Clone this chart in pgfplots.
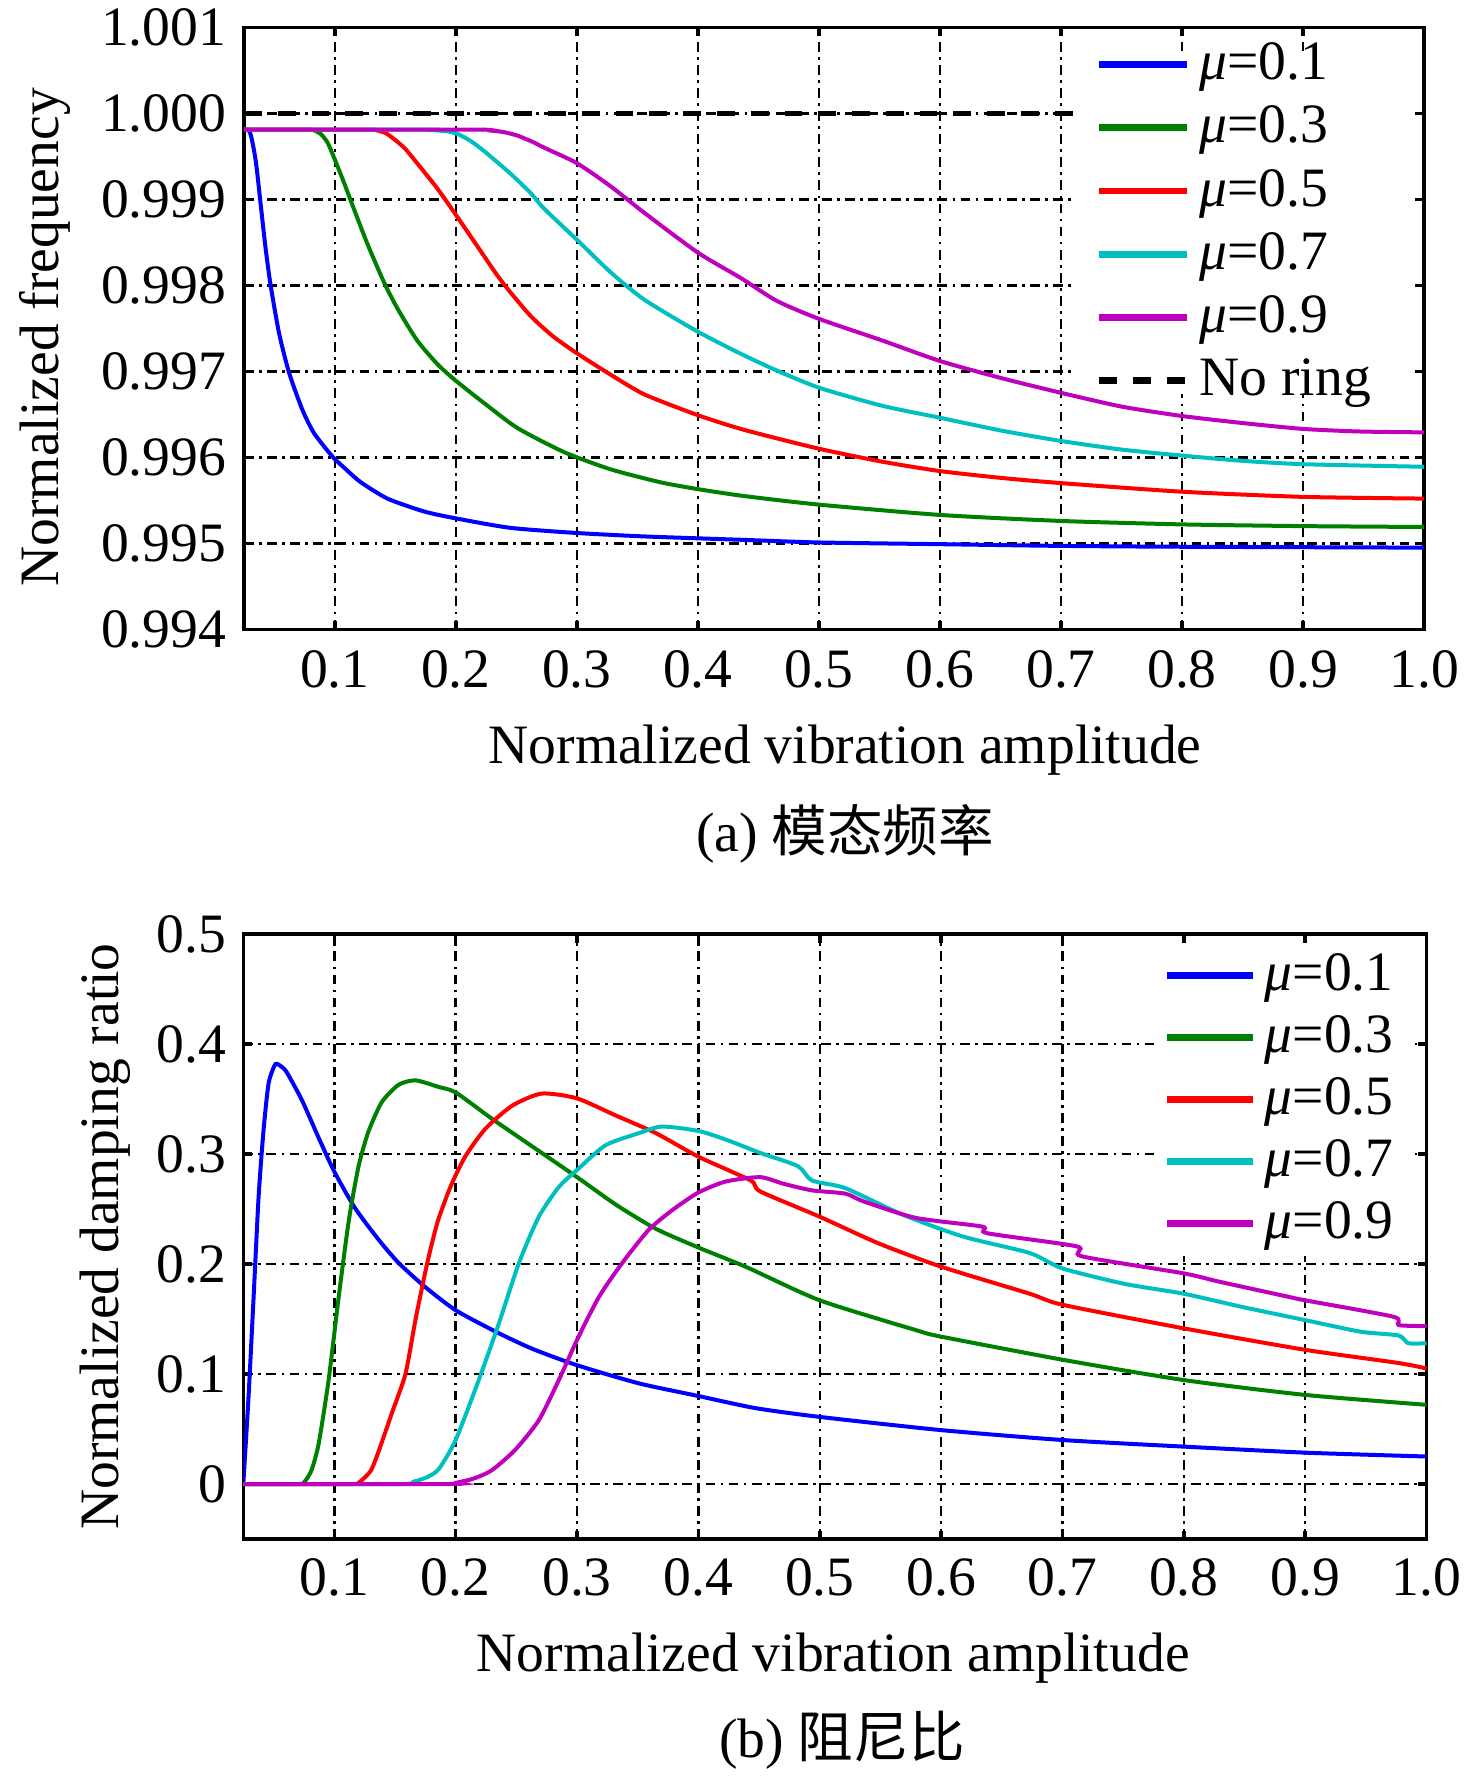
\documentclass[border=0pt]{standalone}
\usepackage{fontspec}
\setmainfont{Liberation Serif}
\newfontfamily\cjk{Noto Sans CJK SC}
\usepackage{pgfplots}
\pgfplotsset{compat=1.18}
\definecolor{cB}{rgb}{0,0,1}
\definecolor{cG}{rgb}{0,0.5,0}
\definecolor{cR}{rgb}{1,0,0}
\definecolor{cC}{rgb}{0,0.75,0.75}
\definecolor{cM}{rgb}{0.75,0,0.75}
\newcommand\fs{\fontsize{12.5}{15}\selectfont}
\newcommand\MU{{\itshape μ}}
\pgfplotsset{
  common/.style={
    scale only axis,
    xmin=0.025, xmax=1.0,
    xtick={0.1,0.2,0.3,0.4,0.5,0.6,0.7,0.8,0.9,1.0},
    xticklabels={0.1,0.2,0.3,0.4,0.5,0.6,0.7,0.8,0.9,1.0},
    tick align=inside,
    major tick length=1.9pt,
    tick style={black, line width=0.8pt},
    axis line style={line width=0.8pt},
    grid=major,
    major grid style={black, line width=0.55pt, dash pattern=on 2.2pt off 1.2pt on 0.6pt off 1.2pt},
    tick label style={font=\fs},
    label style={font=\fs},
    legend cell align=left,
    legend style={font=\fs, draw=none, fill=white},
    every axis plot/.append style={line width=0.9pt, smooth, tension=0.4},
  }
}
\begin{document}
\begin{tikzpicture}
\path[use as bounding box] (0,0) rectangle (332.1pt,-400.7pt);

% ---------------- (a) ----------------
\begin{axis}[common,
  at={(54.9pt,-6.14pt)}, anchor=north west,
  width=265.5pt, height=135.45pt,
  ymin=0.994, ymax=1.001,
  ytick={0.994,0.995,0.996,0.997,0.998,0.999,1.000,1.001},
  yticklabels={0.994,0.995,0.996,0.997,0.998,0.999,1.000,1.001},
  xticklabel style={yshift=-1.2pt},
  yticklabel style={xshift=-0.5pt},
  xlabel={Normalized vibration amplitude},
  xlabel style={at={(axis description cs:0.5093,-0.2221)}, anchor=base},
  ylabel={Normalized frequency},
  ylabel style={at={(axis description cs:-0.1574,0.485)}, anchor=base},
  title={(a) {\cjk 模态频率}},
  every axis title/.style={font=\fs, at={(axis description cs:0.5093,-0.3694)}, anchor=base},
  legend image code/.code={\draw[#1,line width=1.5pt] (0pt,0pt) -- (19.8pt,0pt);},
  legend style={at={(axis description cs:0.7017,0.9626)}, anchor=north west,
    inner xsep=5.2pt, inner ysep=-3.8pt, row sep=0.42pt},
]
\addplot[cB] coordinates {(0.025,0.99981)(0.0275,0.99981)(0.0295,0.99979)(0.0311,0.99972)(0.0335,0.99955)(0.0355,0.99936)(0.0383,0.99900)(0.043,0.99841)(0.0471,0.99799)(0.054,0.99744)(0.0623,0.99698)(0.0733,0.99655)(0.0829,0.99628)(0.098,0.99601)(0.11,0.99585)(0.1215,0.99571)(0.1435,0.99552)(0.1738,0.99537)(0.2,0.99529)(0.245,0.99518)(0.3,0.99512)(0.356,0.99508)(0.438,0.99504)(0.5,0.99501)(0.6,0.99499)(0.7,0.99497)(0.8,0.99496)(1.0,0.99495)};
\addlegendentry{\makebox[40.5pt][l]{\MU=0.1}}
\addplot[cG] coordinates {(0.025,0.99981)(0.078,0.99981)(0.083,0.99980)(0.0884,0.99976)(0.094,0.99966)(0.0995,0.99948)(0.1077,0.99919)(0.116,0.99888)(0.127,0.99848)(0.1408,0.99803)(0.1518,0.99773)(0.168,0.99736)(0.185,0.99708)(0.2,0.99689)(0.2234,0.99663)(0.251,0.99634)(0.2895,0.99606)(0.328,0.99586)(0.369,0.99571)(0.4,0.99563)(0.438,0.99555)(0.5,0.99545)(0.6,0.99533)(0.7,0.99526)(0.8,0.99522)(0.9,0.99520)(1.0,0.99519)};
\addlegendentry{\MU=0.3}
\addplot[cR] coordinates {(0.025,0.99981)(0.128,0.99981)(0.135,0.99980)(0.142,0.99977)(0.149,0.99970)(0.158,0.99959)(0.168,0.99942)(0.185,0.99912)(0.2,0.99882)(0.218,0.99845)(0.234,0.99812)(0.245,0.99792)(0.262,0.99764)(0.28,0.99741)(0.3,0.99721)(0.328,0.99696)(0.356,0.99673)(0.4,0.99649)(0.438,0.99632)(0.5,0.99610)(0.552,0.99595)(0.6,0.99584)(0.651,0.99576)(0.7,0.99570)(0.8,0.99560)(0.9,0.99554)(1.0,0.99552)};
\addlegendentry{\MU=0.5}
\addplot[cC] coordinates {(0.025,0.99981)(0.178,0.99981)(0.185,0.99980)(0.193,0.99979)(0.2014,0.99976)(0.212,0.99968)(0.2234,0.99956)(0.245,0.99930)(0.262,0.99907)(0.273,0.99889)(0.3,0.99853)(0.328,0.99815)(0.356,0.99783)(0.4,0.99746)(0.436,0.99720)(0.465,0.99701)(0.5,0.99681)(0.552,0.99660)(0.6,0.99646)(0.651,0.99631)(0.7,0.99619)(0.75,0.99609)(0.8,0.99602)(0.849,0.99596)(0.9,0.99592)(1.0,0.99589)};
\addlegendentry{\MU=0.7}
\addplot[cM] coordinates {(0.025,0.99981)(0.215,0.99981)(0.228,0.99980)(0.24,0.99978)(0.251,0.99974)(0.263,0.99967)(0.273,0.99960)(0.3,0.99942)(0.328,0.99915)(0.356,0.99884)(0.4,0.99838)(0.436,0.99808)(0.465,0.99782)(0.5,0.99761)(0.552,0.99736)(0.6,0.99712)(0.651,0.99692)(0.7,0.99675)(0.75,0.99659)(0.8,0.99648)(0.849,0.99640)(0.9,0.99633)(0.947,0.99630)(1.0,0.99629)};
\addlegendentry{\MU=0.9}
\addplot[black, line width=1pt, dash pattern=on 4pt off 3.6pt, sharp plot] coordinates {(0.025,1.000)(1.0,1.000)};
\addlegendentry{No ring}
\end{axis}

% ---------------- (b) ----------------
\begin{axis}[common,
  at={(54.74pt,-210.15pt)}, anchor=north west,
  width=266.2pt, height=136.1pt,
  ymin=-0.05, ymax=0.5,
  ytick={0,0.1,0.2,0.3,0.4,0.5},
  yticklabels={0,0.1,0.2,0.3,0.4,0.5},
  xticklabel style={yshift=-0.8pt},
  yticklabel style={xshift=-0.3pt},
  xlabel={Normalized vibration amplitude},
  xlabel style={at={(axis description cs:0.4985,-0.2193)}, anchor=base},
  ylabel={Normalized damping ratio},
  ylabel style={at={(axis description cs:-0.1059,0.5)}, anchor=base},
  title={(b) {\cjk 阻尼比}},
  every axis title/.style={font=\fs, at={(axis description cs:0.506,-0.362)}, anchor=base},
  legend image code/.code={\draw[#1,line width=1.5pt] (0pt,0pt) -- (19.2pt,0pt);},
  legend style={at={(axis description cs:0.7688,0.9873)}, anchor=north west,
    inner xsep=2.3pt, inner ysep=0.5pt, row sep=0.12pt},
]
\addplot[cB] coordinates {(0.025,0)(0.0293,0.079)(0.0335,0.170)(0.0376,0.261)(0.0417,0.322)(0.0458,0.364)(0.0505,0.380)(0.0527,0.382)(0.057,0.379)(0.061,0.374)(0.0733,0.349)(0.087,0.315)(0.1,0.284)(0.117,0.251)(0.1366,0.222)(0.153,0.201)(0.175,0.179)(0.2,0.158)(0.233,0.1385)(0.263,0.123)(0.3,0.108)(0.351,0.0915)(0.4,0.080)(0.447,0.069)(0.5,0.061)(0.6,0.049)(0.7,0.040)(0.8,0.034)(0.9,0.0285)(1.0,0.025)};
\addlegendentry{\makebox[29.4pt][l]{\MU=0.1}}
\addplot[cG] coordinates {(0.025,0)(0.07,0)(0.0747,0.001)(0.081,0.012)(0.087,0.036)(0.0953,0.0945)(0.1036,0.170)(0.112,0.240)(0.120,0.289)(0.128,0.320)(0.139,0.347)(0.153,0.363)(0.167,0.367)(0.186,0.361)(0.2,0.356)(0.23,0.332)(0.263,0.307)(0.3,0.279)(0.332,0.254)(0.365,0.232)(0.4,0.215)(0.44,0.197)(0.5,0.167)(0.579,0.140)(0.6,0.134)(0.7,0.113)(0.8,0.0945)(0.9,0.081)(1.0,0.072)};
\addlegendentry{\MU=0.3}
\addplot[cR] coordinates {(0.025,0)(0.115,0)(0.12,0.001)(0.13,0.012)(0.1366,0.030)(0.1476,0.065)(0.1586,0.100)(0.167,0.150)(0.1764,0.200)(0.185,0.238)(0.196,0.271)(0.208,0.298)(0.2245,0.323)(0.2466,0.344)(0.271,0.355)(0.3,0.3506)(0.332,0.335)(0.365,0.319)(0.4,0.2976)(0.443,0.276)(0.451,0.266)(0.5,0.243)(0.548,0.219)(0.6,0.1976)(0.673,0.173)(0.7,0.163)(0.8,0.1415)(0.9,0.122)(0.977,0.110)(1.0,0.105)};
\addlegendentry{\MU=0.5}
\addplot[cC] coordinates {(0.025,0)(0.155,0)(0.165,0.002)(0.176,0.006)(0.186,0.0135)(0.2,0.040)(0.219,0.0945)(0.2356,0.146)(0.252,0.2006)(0.2685,0.243)(0.285,0.270)(0.3,0.2855)(0.3235,0.308)(0.351,0.319)(0.370,0.325)(0.4,0.321)(0.423,0.313)(0.451,0.301)(0.482,0.289)(0.4935,0.276)(0.521,0.269)(0.568,0.245)(0.618,0.225)(0.673,0.210)(0.7,0.196)(0.751,0.182)(0.8,0.173)(0.848,0.161)(0.9,0.149)(0.9456,0.1385)(0.977,0.135)(0.985,0.128)(1.0,0.128)};
\addlegendentry{\MU=0.7}
\addplot[cM] coordinates {(0.025,0)(0.195,0)(0.2,0.001)(0.215,0.005)(0.23,0.0127)(0.249,0.031)(0.2685,0.058)(0.285,0.0945)(0.3,0.131)(0.318,0.170)(0.337,0.2006)(0.359,0.231)(0.3785,0.249)(0.4,0.265)(0.4225,0.275)(0.451,0.279)(0.470,0.273)(0.4935,0.267)(0.521,0.264)(0.536,0.257)(0.579,0.242)(0.634,0.234)(0.638,0.228)(0.712,0.216)(0.716,0.207)(0.8,0.1915)(0.829,0.184)(0.887,0.170)(0.9,0.167)(0.973,0.152)(0.977,0.1445)(1.0,0.1436)};
\addlegendentry{\MU=0.9}
\end{axis}
\end{tikzpicture}
\end{document}
